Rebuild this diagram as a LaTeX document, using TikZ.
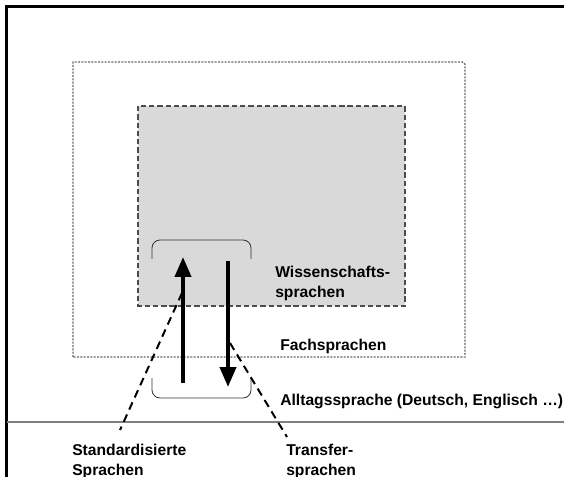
\documentclass[tikz,border=0pt]{standalone}
\usepackage{fontspec}
\setsansfont{Liberation Sans}
\usetikzlibrary{arrows.meta}
\begin{document}
\begin{tikzpicture}[x=0.75pt, y=-0.75pt,
    frame/.style={line width=1.6pt, black},
    fach/.style={draw=black!60, dash pattern=on 1.5pt off 1pt, line width=1pt},
    wiss/.style={draw=black!70, fill=black!15, dash pattern=on 4pt off 2.2pt, line width=0.9pt},
    klammer/.style={draw=black!80, line width=0.6pt, rounded corners=6pt},
    pfeil/.style={line width=3pt, -{Triangle[width=12pt, length=15pt]}},
    hinweis/.style={line width=1.5pt, dash pattern=on 6pt off 4pt},
    lab/.style={font=\sffamily\bfseries\fontsize{11.75}{15}\selectfont, align=left, inner sep=0pt, anchor=west}
  ]
  \useasboundingbox (0,0) rectangle (564,477);
  % Rahmen und Grundlinie
  \draw[frame] (564,6.5) -- (6.5,6.5) -- (6.5,477);
  \draw[black!50, line width=1.2pt] (6.5,422) -- (564,422);
  % Bereiche
  \draw[fach] (73,357) -- (73,62) -- (459,62) .. controls (465,62) .. (465,68) -- (465,357) -- cycle;
  \draw[wiss] (138,106) rectangle (405,306);
  % Klammern
  \draw[klammer] (152,259) -- (152,240) -- (251,240) -- (251,259);
  \draw[klammer] (152,378) -- (152,398) -- (251,398) -- (251,378);
  % Pfeile
  \coordinate (upA) at (183,383);
  \coordinate (upB) at (183,257);
  \coordinate (downA) at (228,261);
  \coordinate (downB) at (228,387);
  \draw[pfeil] (upA) -- (upB);
  \draw[pfeil] (downA) -- (downB);
  % Beschriftungen
  \node[lab] (wisslab) at (275,283) {Wissenschafts-\\sprachen};
  \node[lab] (fachlab) at (280,346.5) {Fachsprachen};
  \node[lab] (alltag) at (280,401) {Alltagssprache (Deutsch, Englisch …)};
  \node[lab] (std) at (72,461.5) {Standardisierte\\Sprachen};
  \node[lab] (trans) at (286,461.5) {Transfer-\\sprachen};
  % Hinweislinien
  \coordinate (stdA) at (182,293);
  \coordinate (stdB) at (120,430);
  \coordinate (transA) at (230,343);
  \coordinate (transB) at (287,437);
  \draw[hinweis] (stdA) -- (stdB);
  \draw[hinweis] (transA) -- (transB);
\end{tikzpicture}
\end{document}
